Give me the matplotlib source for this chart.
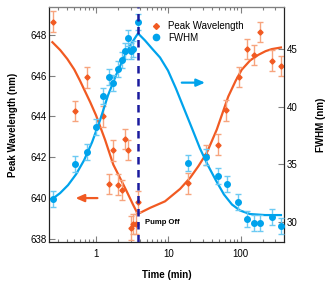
import matplotlib
matplotlib.use("Agg")
from matplotlib import pyplot as plt
from matplotlib.lines import Line2D
from matplotlib.ticker import LogLocator, FixedLocator, NullFormatter

plt.rcParams['font.family'] = ['Liberation Sans', 'DejaVu Sans']

# peak wavelength data (left axis, nm)
wl_time = [0.25, 0.51, 0.76, 1.26, 1.51, 1.73, 2.03, 2.26, 2.51, 2.74, 3.04, 3.27, 3.53, 3.76,
           18.4, 32.9, 48.7, 62, 93.8, 123.7, 151, 183, 270, 356]
wl_vals = [648.65, 644.28, 645.91, 644.0, 640.69, 642.34, 640.66, 640.41, 642.91, 642.37, 638.54,
           638.73, 638.73, 639.83,
           640.72, 642.1, 642.62, 644.3, 645.93, 647.3, 647.02, 648.13, 646.74, 646.48]
wl_err = [0.5, 0.5, 0.5, 0.5, 0.5, 0.5, 0.5, 0.5, 0.5, 0.5, 0.6, 0.5, 0.5, 0.5,
          0.5, 0.5, 0.5, 0.5, 0.5, 0.5, 0.5, 0.5, 0.5, 0.5]

# FWHM data (right axis, nm)
fw_time = [0.25, 0.51, 0.76, 1.0, 1.26, 1.51, 1.73, 2.03, 2.26, 2.51, 2.74, 3.04, 3.27, 3.76,
           18.4, 32.9, 48.7, 63.5, 91.9, 122, 151, 183, 270, 356]
fw_vals = [31.96, 34.98, 36.05, 38.26, 40.93, 42.56, 42.1, 43.26, 44.07, 44.85, 46.0, 44.85, 45.0, 47.35,
           35.12, 35.59, 33.96, 33.27, 31.67, 30.25, 29.84, 29.84, 30.37, 29.6]
fw_err = [0.7] * len(fw_vals)

# fit curves
wl_fit_t = [0.249, 0.32, 0.40, 0.50, 0.60, 0.70, 0.83, 1.0, 1.33, 1.73, 2.14, 2.65, 3.24, 3.77,
            5.57, 8.97, 14.5, 20.0, 25.9, 33.8, 46.5, 67.2, 85, 103, 135, 175, 220, 267, 359]
wl_fit_v = [647.64, 647.25, 646.82, 646.3, 645.75, 645.25, 644.7, 644.05, 642.86, 641.64, 640.99,
            640.33, 639.68, 639.22,
            639.52, 639.84, 640.45, 641.0, 641.56, 642.21, 643.35, 644.98, 645.75, 646.29, 646.75,
            647.02, 647.2, 647.30, 647.38]
fw_fit_t = [0.247, 0.318, 0.410, 0.530, 0.683, 0.881, 1.136, 1.465, 1.89, 2.44, 3.04, 3.80,
            4.75, 5.93, 7.65, 9.87, 12.7, 16.4, 21.2, 27.3, 35.2, 45.4, 58.6, 75.5, 97.5, 134,
            216, 359]
fw_fit_v = [31.96, 32.48, 33.18, 34.13, 35.35, 36.92, 38.84, 41.01, 42.76, 44.33, 45.46, 46.39,
            45.77, 45.07, 44.29, 43.15, 41.59, 39.85, 38.11, 36.37, 34.89, 33.58, 32.36, 31.49,
            30.97, 30.66, 30.57, 30.57]

pump_off = 3.8

orange = '#F15A22'
orange_light = '#F7A47E'
blue = '#00A3EC'
blue_light = '#6CCAF3'
navy = '#1B1B9E'

fig = plt.figure(figsize=(3.29, 2.81), dpi=100)
ax = fig.add_axes([0.15, 0.139, 0.714, 0.835])
ax2 = ax.twinx()

ax.set_xscale('log')
ax.set_xlim(0.226, 399)
ax.set_ylim(637.85, 649.35)
ax2.set_ylim(28.23, 48.66)

ax.plot(wl_fit_t, wl_fit_v, color=orange, lw=1.6, zorder=3)
ax.errorbar(wl_time, wl_vals, yerr=wl_err, fmt='D', ms=2.6, color=orange, ecolor=orange_light,
            elinewidth=1, capsize=2, capthick=1, zorder=4)
ax2.plot(fw_fit_t, fw_fit_v, color=blue, lw=1.6, zorder=3)
ax2.errorbar(fw_time, fw_vals, yerr=fw_err, fmt='o', ms=4, color=blue, ecolor=blue_light,
             elinewidth=1, capsize=2, capthick=1, zorder=4)

ax2.axvline(pump_off, color=navy, lw=1.8, ls=(0, (3, 2.2)), zorder=5)
ax.text(4.75, 638.8, 'Pump Off', fontsize=5.5, fontweight='bold', va='center', ha='left')

# direction arrows
ax.annotate('', xy=(0.476, 640.0), xytext=(1.14, 640.0),
            arrowprops=dict(arrowstyle='-|>,head_length=0.5,head_width=0.22', color=orange, lw=1.6))
ax2.annotate('', xy=(35, 42.1), xytext=(14, 42.1),
             arrowprops=dict(arrowstyle='-|>,head_length=0.5,head_width=0.22', color=blue, lw=1.6))

# legend
handles = [Line2D([], [], marker='D', ms=3, color=orange, ls='none'),
           Line2D([], [], marker='o', ms=4.5, color=blue, ls='none')]
ax2.legend(handles, ['Peak Wavelength', 'FWHM'], loc='upper left', bbox_to_anchor=(0.405, 0.97),
           frameon=False, fontsize=7, handletextpad=0.7, labelspacing=0.15, handlelength=1,
           borderpad=0.2)

ax.set_yticks([638, 640, 642, 644, 646, 648])
ax2.yaxis.set_major_locator(FixedLocator([30, 35, 40, 45]))
ax.xaxis.set_minor_locator(LogLocator(base=10, subs=range(2, 10)))
ax.xaxis.set_minor_formatter(NullFormatter())
ax.set_xticks([1, 10, 100])
ax.set_xticklabels(['1', '10', '100'])

for a in (ax, ax2):
    a.tick_params(which='major', direction='in', length=4, width=0.8, color='#808080', labelsize=7, pad=2)
    a.tick_params(which='minor', direction='in', length=2.2, width=0.8, color='#808080')
ax.tick_params(axis='x', which='major', pad=5)
ax.tick_params(axis='x', which='both', top=True)
ax2.tick_params(axis='y', right=True, left=False)

for s in ['left', 'right', 'bottom']:
    ax2.spines[s].set_color('#222222')
ax2.spines['top'].set_color('#808080')

ax.set_xlabel('Time (min)', fontsize=7, fontweight='bold', labelpad=8)
ax.set_ylabel('Peak Wavelength (nm)', fontsize=7, fontweight='bold', labelpad=9)
ax2.set_ylabel('FWHM (nm)', fontsize=7, fontweight='bold', labelpad=13)

fig.savefig('out.png', dpi=100)
